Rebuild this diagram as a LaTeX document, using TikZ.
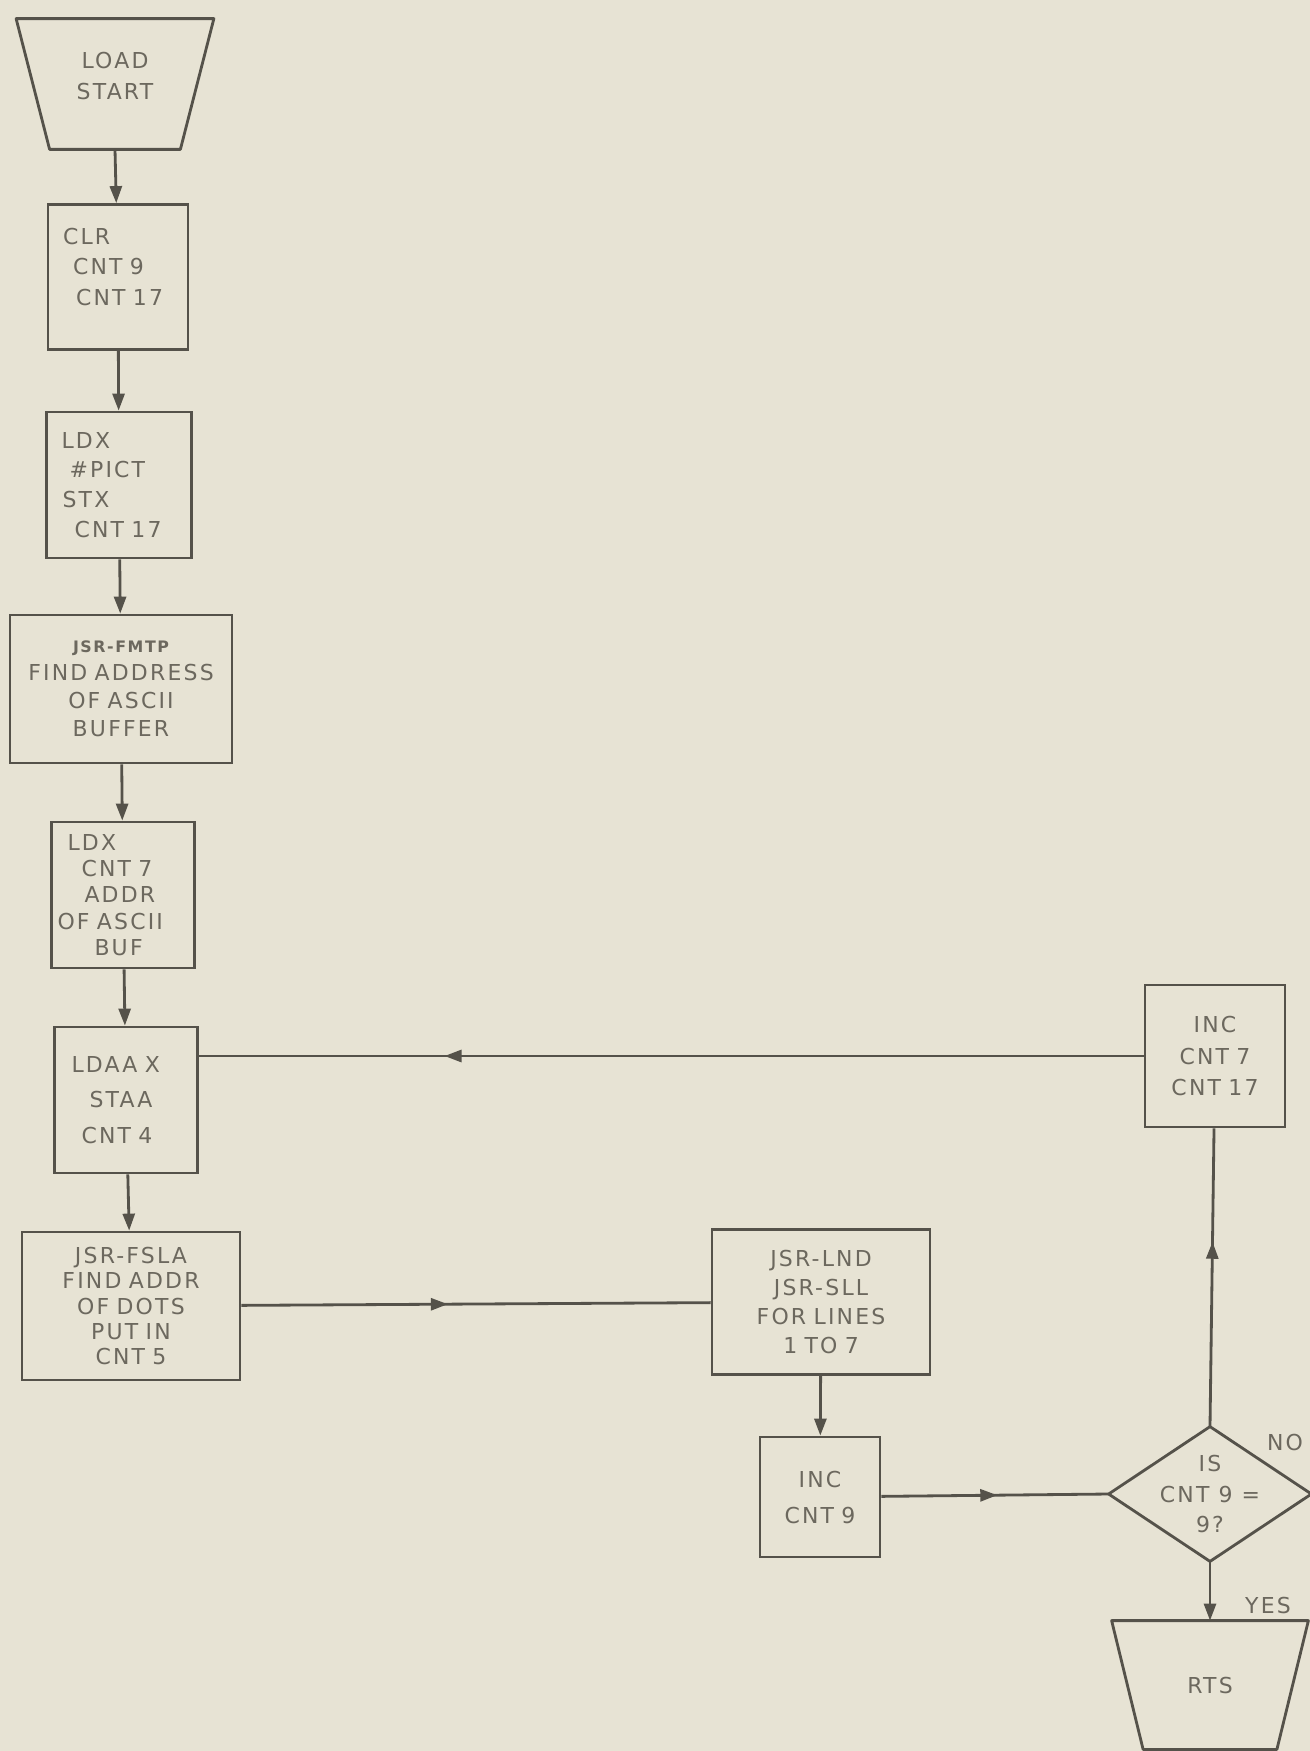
\documentclass[tikz,border=0pt]{standalone}
\usepackage{fontspec}
\setmainfont{DejaVu Sans}[LetterSpace=10]
\usetikzlibrary{arrows.meta,decorations.markings}
\definecolor{ink}{HTML}{55524A}
\definecolor{lettering}{HTML}{6C685E}
\definecolor{paper}{HTML}{E7E3D4}

\begin{document}
\begin{tikzpicture}[x=0.02cm,y=-0.02cm,
  flowbox/.style={draw=ink,line width=1.6pt,rectangle,inner sep=0pt,text=lettering,
    font=\fontsize{12.5}{#1}\selectfont,align=center},
  flowbox/.default=17.5,
  termbox/.style={flowbox,draw=none},
  flowline/.style={draw=ink,line width=1.6pt,-{Triangle[length=0.34cm,width=0.24cm]}},
  plainline/.style={draw=ink,line width=1.6pt},
  midarrow/.style={postaction={decorate},decoration={markings,
    mark=at position #1 with {\arrow{Triangle[length=0.34cm,width=0.24cm]}}}},
  tag/.style={text=lettering,font=\fontsize{12.5}{17.5}\selectfont,inner sep=0pt}]
\fill[paper] (0,0) rectangle (1310,1751);
\useasboundingbox (0,0) rectangle (1310,1751);

\node[termbox,minimum width=3.9cm,minimum height=2.56cm] (load) at (115,84) {LOAD\\START\\[-0.3cm]\mbox{}};
\draw[plainline,line join=round] (load.north west) -- (load.north east) -- ([xshift=-0.67cm]load.south east) -- ([xshift=0.67cm]load.south west) -- cycle;
\node[flowbox=17.5,minimum width=2.8cm,minimum height=2.9cm,text width=2.8cm,align=left] (clr) at (118,277) {\hspace*{0.3cm}CLR\\\hspace*{0.5cm}CNT 9\\\hspace*{0.56cm}CNT 17\\[-0.2cm]\mbox{}};
\node[flowbox=17,minimum width=2.9cm,minimum height=2.92cm,text width=2.9cm,align=left] (ldx) at (119,485) {\hspace*{0.3cm}LDX\\\hspace*{0.46cm}\#PICT\\\hspace*{0.32cm}STX\\\hspace*{0.56cm}CNT 17};
\node[flowbox=16,minimum width=4.44cm,minimum height=2.96cm,text width=4.44cm] (fmtp) at (121,689) {{\fontsize{9}{10}\selectfont\bfseries JSR-FMTP}\\FIND ADDRESS\\OF ASCII\\BUFFER};
\node[flowbox=15,minimum width=2.86cm,minimum height=2.92cm,text width=2.86cm,align=left] (ldx7) at (123,895) {\hspace*{0.32cm}LDX\\\hspace*{0.6cm}CNT 7\\\hspace*{0.66cm}ADDR\\\hspace*{0.12cm}OF ASCII\\\hspace*{0.86cm}BUF};
\node[flowbox=20,minimum width=2.86cm,minimum height=2.92cm,text width=2.86cm,align=left] (ldaa) at (126,1100) {\hspace*{0.34cm}LDAA X\\\hspace*{0.7cm}STAA\\\hspace*{0.54cm}CNT 4};
\node[flowbox=14.5,minimum width=4.36cm,minimum height=2.96cm,text width=4.36cm] (fsla) at (131,1306) {JSR-FSLA\\FIND ADDR\\OF DOTS\\PUT IN\\CNT 5};
\node[flowbox=16.5,minimum width=4.36cm,minimum height=2.9cm,text width=4.36cm] (lnd) at (821,1302) {JSR-LND\\JSR-SLL\\FOR LINES\\1 TO 7};
\node[flowbox=20.5,minimum width=2.4cm,minimum height=2.4cm,text width=2.4cm] (inc9) at (820,1497) {INC\\CNT 9};
\node[flowbox=18,minimum width=2.8cm,minimum height=2.84cm,text width=2.8cm] (inc7) at (1215,1056) {INC\\CNT 7\\CNT 17};
\node[termbox=17,minimum width=4cm,minimum height=2.64cm] (test) at (1210,1494) {IS\\CNT 9 =\\9?};
\draw[plainline,line join=round] (test.north) -- (test.east) -- (test.south) -- (test.west) -- cycle;
\node[termbox,minimum width=3.88cm,minimum height=2.52cm] (rts) at (1210,1685) {RTS};
\draw[plainline,line join=round] (rts.north west) -- (rts.north east) -- ([xshift=-0.63cm]rts.south east) -- ([xshift=0.63cm]rts.south west) -- cycle;
\node[tag] (no) at (1285,1442) {NO};
\node[tag] (yes) at (1268,1605) {YES};

\draw[flowline] (load.south) -- (clr);
\draw[flowline] (clr) -- (ldx);
\draw[flowline] (ldx) -- (fmtp);
\draw[flowline] (fmtp) -- (ldx7);
\draw[flowline] (ldx7) -- (ldaa);
\draw[flowline] (ldaa) -- (fsla);
\draw[plainline,midarrow=0.44] (fsla) -- (lnd);
\draw[flowline] (lnd) -- (inc9);
\draw[plainline,midarrow=0.51] (inc9) -- (test.west);
\draw[plainline,midarrow=0.62] (test.north) -- (inc7);
\draw[plainline,midarrow=0.74] (inc7.west) -- (inc7.west -| ldaa.east);
\draw[flowline] (test.south) -- (rts.north);
\end{tikzpicture}
\end{document}
